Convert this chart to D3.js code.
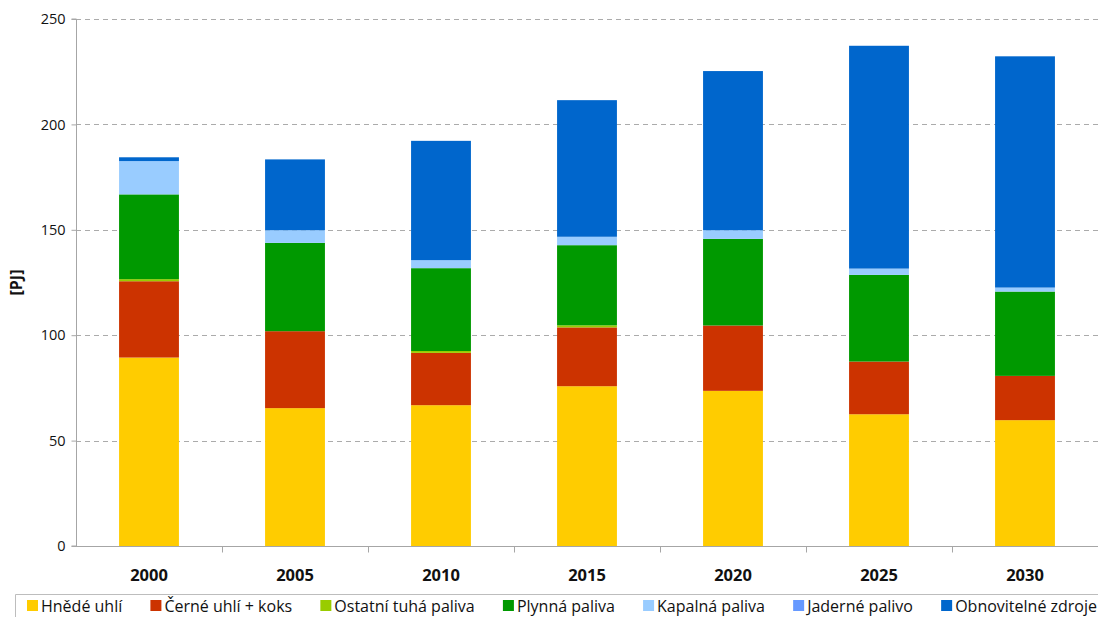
<!DOCTYPE html>
<html>
<head>
<meta charset="utf-8">
<script src="https://cdn.jsdelivr.net/npm/d3@7"></script>
<style>
  html, body { margin: 0; padding: 0; background: #fff; }
  svg { display: block; font-family: "Open Sans", "DejaVu Sans", sans-serif; }
</style>
</head>
<body>
<svg id="chart" width="1098" height="617"></svg>
<script>
// Energy consumption by fuel type [PJ]
const years = ["2000", "2005", "2010", "2015", "2020", "2025", "2030"];
const seriesNames = [
  "Hnědé uhlí", "Černé uhlí + koks", "Ostatní tuhá paliva", "Plynná paliva",
  "Kapalná paliva", "Jaderné palivo", "Obnovitelné zdroje"
];
const seriesColors = ["#FFCC00", "#CC3300", "#99CC00", "#009900", "#99CCFF", "#6699FF", "#0066CC"];

const hnedeUhli     = [89.4, 65.4, 66.8, 75.8, 73.6, 62.5, 59.7];
const cerneUhli     = [36.2, 36.5, 24.8, 27.9, 31.0, 25.0, 21.0];
const ostatniTuha   = [1.0, 0.0, 0.9, 1.0, 0.0, 0.0, 0.0];
const plynnaPaliva  = [40.2, 41.9, 39.3, 38.0, 41.1, 41.1, 40.0];
const kapalnaPaliva = [15.8, 6.0, 3.8, 4.0, 4.1, 3.0, 1.9];
const jadernePalivo = [0, 0, 0, 0, 0, 0, 0];
const obnovitelne   = [1.8, 33.6, 56.6, 64.8, 75.5, 105.7, 109.7];

const yTicks = [0, 50, 100, 150, 200, 250];
const yLabel = "[PJ]";

const seriesValues = [hnedeUhli, cerneUhli, ostatniTuha, plynnaPaliva, kapalnaPaliva, jadernePalivo, obnovitelne];

const table = years.map((y, i) => {
  const row = { year: y };
  seriesNames.forEach((s, k) => { row[s] = seriesValues[k][i]; });
  return row;
});

const svg = d3.select("#chart");
const margin = { left: 76, right: 0, top: 19, bottom: 71 };
const W = 1098, H = 617;
const plotH = H - margin.top - margin.bottom;

const x = d3.scaleBand().domain(years).range([margin.left, W - margin.right]).paddingInner(0.59).paddingOuter(0.295);
const xCat = d3.scaleBand().domain(years).range([margin.left, W - margin.right]);
const y = d3.scaleLinear().domain([0, 250]).range([margin.top + plotH, margin.top]);

// grid lines
svg.append("g")
  .selectAll("line")
  .data(yTicks.filter(t => t > 0))
  .join("line")
  .attr("x1", margin.left).attr("x2", W)
  .attr("y1", d => Math.round(y(d)) + 0.5).attr("y2", d => Math.round(y(d)) + 0.5)
  .attr("stroke", "#ababab")
  .attr("stroke-width", 1)
  .attr("stroke-dasharray", "5,4");

// stacked bars
const stack = d3.stack().keys(seriesNames)(table);
svg.append("g")
  .selectAll("g")
  .data(stack)
  .join("g")
  .attr("fill", (d, i) => seriesColors[i])
  .selectAll("rect")
  .data(d => d)
  .join("rect")
  .attr("x", d => x(d.data.year))
  .attr("width", x.bandwidth())
  .attr("y", d => y(d[1]))
  .attr("height", d => Math.max(0, y(d[0]) - y(d[1])));

// y axis
const yAxis = d3.axisLeft(y).tickValues(yTicks).tickSize(5).tickPadding(6);
const gy = svg.append("g").attr("transform", `translate(${margin.left + 0.5},0)`).call(yAxis);
gy.select(".domain").attr("stroke", "#a6a6a6").attr("d", `M-5,${y(250)}H0V${y(0)}H-5`);
gy.selectAll(".tick line").attr("stroke", "#a6a6a6");
gy.selectAll(".tick text").attr("font-size", 14.5).attr("fill", "#111").attr("font-family", "Open Sans, sans-serif");

// x axis
const gx = svg.append("g").attr("transform", `translate(0,${Math.round(y(0)) + 0.5})`);
gx.append("line").attr("x1", margin.left).attr("x2", W).attr("stroke", "#a6a6a6");
gx.selectAll(".sep")
  .data(years.slice(1))
  .join("line")
  .attr("class", "sep")
  .attr("x1", d => Math.round(xCat(d)) + 0.5).attr("x2", d => Math.round(xCat(d)) + 0.5)
  .attr("y1", 0).attr("y2", 6)
  .attr("stroke", "#a6a6a6");
gx.selectAll(".lbl")
  .data(years)
  .join("text")
  .attr("class", "lbl")
  .attr("x", d => xCat(d) + xCat.bandwidth() / 2)
  .attr("y", 34)
  .attr("text-anchor", "middle")
  .attr("font-size", 16.5)
  .attr("font-weight", "bold")
  .attr("fill", "#111")
  .text(d => d);

// y axis title
svg.append("text")
  .attr("transform", `translate(22,${(y(0) + y(250)) / 2}) rotate(-90)`)
  .attr("text-anchor", "middle")
  .attr("font-size", 16)
  .attr("font-weight", "bold")
  .attr("fill", "#111")
  .text(yLabel);

// legend: items spread across the strip below the axis
const lg = svg.append("g");
lg.append("path")
  .attr("d", "M15.5,617V594.5H1098")
  .attr("fill", "none")
  .attr("stroke", "#bdbdbd");
const items = seriesNames.map((name, i) => {
  const item = lg.append("g");
  item.append("rect").attr("x", 0).attr("y", 600).attr("width", 11).attr("height", 11).attr("fill", seriesColors[i]);
  const t = item.append("text")
    .attr("x", 14).attr("y", 611.5)
    .attr("font-size", 16)
    .attr("fill", "#111")
    .text(name);
  return { item, w: 14 + t.node().getComputedTextLength() };
});
const startX = 27, endX = 1097;
const totalW = d3.sum(items, d => d.w);
const gap = (endX - startX - totalW) / (items.length - 1);
let lx = startX;
items.forEach(d => {
  d.item.attr("transform", `translate(${lx},0)`);
  lx += d.w + gap;
});
</script>
</body>
</html>
